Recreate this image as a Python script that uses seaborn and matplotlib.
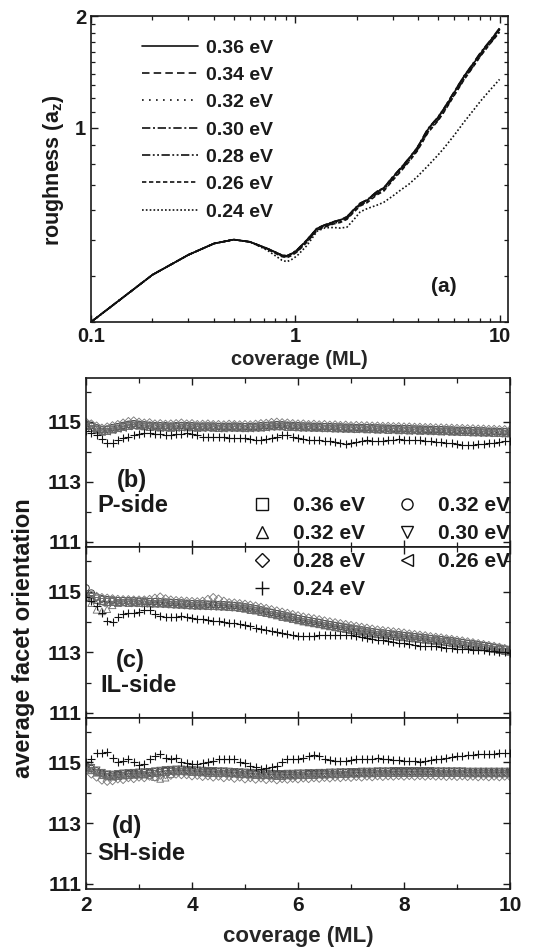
import numpy as np
import pandas as pd
import matplotlib
matplotlib.use("Agg")
import matplotlib.pyplot as plt
from matplotlib.lines import Line2D
from matplotlib.ticker import FixedLocator, NullFormatter, FixedFormatter
import seaborn as sns

# ---------------- panel (a): roughness vs coverage ----------------
energies_a = ["0.36 eV", "0.34 eV", "0.32 eV", "0.30 eV", "0.28 eV", "0.26 eV", "0.24 eV"]
coverage_a = [0.10, 0.20, 0.30, 0.40, 0.50, 0.60, 0.73, 0.86, 0.91, 0.96, 1.02, 1.14, 1.28,
              1.40, 1.54, 1.66, 1.79, 1.93, 2.08, 2.25, 2.51, 2.71, 3.00, 3.27, 3.60, 3.95,
              4.46, 5.00, 5.33, 6.00, 6.69, 7.40, 8.07, 9.00, 10.0]
rough_036 = [0.300, 0.402, 0.455, 0.488, 0.500, 0.493, 0.473, 0.454, 0.452, 0.458, 0.468, 0.498, 0.536,
             0.547, 0.558, 0.564, 0.575, 0.600, 0.625, 0.638, 0.672, 0.687, 0.735, 0.775, 0.825, 0.880,
             0.990, 1.065, 1.120, 1.245, 1.370, 1.480, 1.585, 1.710, 1.840]
rough_034 = [0.300, 0.402, 0.455, 0.488, 0.500, 0.493, 0.473, 0.454, 0.452, 0.458, 0.469, 0.499, 0.537,
             0.548, 0.558, 0.565, 0.576, 0.601, 0.626, 0.640, 0.673, 0.689, 0.737, 0.777, 0.827, 0.883,
             0.993, 1.068, 1.125, 1.250, 1.375, 1.485, 1.590, 1.715, 1.850]
rough_032 = [0.300, 0.402, 0.455, 0.488, 0.500, 0.493, 0.473, 0.453, 0.451, 0.457, 0.467, 0.497, 0.535,
             0.546, 0.557, 0.563, 0.574, 0.599, 0.624, 0.637, 0.670, 0.686, 0.733, 0.773, 0.822, 0.877,
             0.985, 1.060, 1.115, 1.240, 1.365, 1.475, 1.580, 1.705, 1.835]
rough_030 = [0.300, 0.402, 0.455, 0.488, 0.500, 0.493, 0.473, 0.454, 0.452, 0.459, 0.469, 0.499, 0.537,
             0.548, 0.559, 0.565, 0.576, 0.602, 0.627, 0.640, 0.674, 0.689, 0.738, 0.778, 0.828, 0.884,
             0.995, 1.070, 1.125, 1.250, 1.378, 1.488, 1.595, 1.720, 1.855]
rough_028 = [0.300, 0.402, 0.455, 0.488, 0.500, 0.493, 0.472, 0.452, 0.449, 0.455, 0.465, 0.494, 0.532,
             0.543, 0.553, 0.559, 0.570, 0.595, 0.620, 0.633, 0.665, 0.680, 0.727, 0.766, 0.815, 0.870,
             0.975, 1.050, 1.105, 1.228, 1.350, 1.460, 1.565, 1.690, 1.815]
rough_026 = [0.300, 0.402, 0.455, 0.488, 0.500, 0.493, 0.471, 0.450, 0.447, 0.453, 0.463, 0.492, 0.530,
             0.541, 0.551, 0.556, 0.567, 0.592, 0.616, 0.629, 0.660, 0.675, 0.722, 0.761, 0.810, 0.865,
             0.970, 1.045, 1.100, 1.222, 1.345, 1.455, 1.560, 1.685, 1.810]
rough_024 = [0.300, 0.402, 0.455, 0.488, 0.500, 0.493, 0.468, 0.440, 0.436, 0.442, 0.452, 0.482, 0.527,
             0.538, 0.539, 0.537, 0.540, 0.565, 0.594, 0.606, 0.619, 0.630, 0.655, 0.679, 0.705, 0.738,
             0.790, 0.845, 0.880, 0.955, 1.035, 1.110, 1.180, 1.265, 1.350]
rough_all = [rough_036, rough_034, rough_032, rough_030, rough_028, rough_026, rough_024]

# ---------------- panels (b)-(d): facet orientation vs coverage ----------------
coverage_bd = np.round(np.linspace(2.0, 10.0, 81), 1)
legend_labels_bd = ["0.36 eV", "0.32 eV", "0.32 eV", "0.30 eV", "0.28 eV", "0.26 eV", "0.24 eV"]

# (b) P-side
b_036 = [114.88, 114.80, 114.75, 114.70, 114.70, 114.76, 114.80, 114.85, 114.87, 114.90, 114.88,
         114.86, 114.84, 114.85, 114.82, 114.83, 114.81, 114.84, 114.83, 114.85, 114.82,
         114.82, 114.81, 114.83, 114.82, 114.80, 114.81, 114.82, 114.81, 114.81, 114.80,
         114.81, 114.82, 114.83, 114.83, 114.86, 114.86, 114.86, 114.84, 114.84, 114.83,
         114.82, 114.82, 114.81, 114.81, 114.80, 114.80, 114.79, 114.79, 114.78, 114.78,
         114.77, 114.78, 114.76, 114.77, 114.75, 114.76, 114.74, 114.75, 114.74, 114.73,
         114.73, 114.72, 114.72, 114.71, 114.71, 114.70, 114.70, 114.69, 114.69, 114.68,
         114.67, 114.67, 114.66, 114.66, 114.65, 114.65, 114.64, 114.64, 114.63, 114.63]
b_034 = [114.92, 114.87, 114.79, 114.74, 114.75, 114.80, 114.83, 114.87, 114.91, 114.93, 114.91,
         114.89, 114.88, 114.86, 114.86, 114.86, 114.85, 114.86, 114.87, 114.86, 114.86,
         114.85, 114.85, 114.85, 114.85, 114.84, 114.84, 114.84, 114.85, 114.84, 114.83,
         114.84, 114.84, 114.86, 114.87, 114.88, 114.90, 114.89, 114.88, 114.87, 114.86,
         114.85, 114.85, 114.84, 114.84, 114.83, 114.83, 114.82, 114.82, 114.81, 114.81,
         114.80, 114.80, 114.80, 114.79, 114.79, 114.78, 114.78, 114.77, 114.77, 114.76,
         114.76, 114.75, 114.75, 114.74, 114.74, 114.73, 114.73, 114.72, 114.72, 114.71,
         114.71, 114.70, 114.70, 114.69, 114.69, 114.68, 114.68, 114.67, 114.67, 114.66]
b_032 = [114.85, 114.78, 114.72, 114.66, 114.69, 114.73, 114.78, 114.82, 114.86, 114.88, 114.86,
         114.84, 114.82, 114.83, 114.80, 114.81, 114.79, 114.81, 114.82, 114.81, 114.81,
         114.79, 114.80, 114.81, 114.79, 114.79, 114.78, 114.80, 114.79, 114.79, 114.78,
         114.79, 114.80, 114.80, 114.82, 114.84, 114.84, 114.84, 114.82, 114.82, 114.81,
         114.80, 114.80, 114.79, 114.79, 114.78, 114.78, 114.77, 114.77, 114.76, 114.76,
         114.75, 114.76, 114.74, 114.75, 114.73, 114.74, 114.72, 114.73, 114.71, 114.72,
         114.70, 114.71, 114.69, 114.70, 114.68, 114.69, 114.67, 114.68, 114.66, 114.66,
         114.65, 114.65, 114.64, 114.64, 114.63, 114.63, 114.62, 114.62, 114.61, 114.61]
b_030 = [114.90, 114.83, 114.77, 114.71, 114.73, 114.77, 114.81, 114.85, 114.89, 114.91, 114.89,
         114.87, 114.86, 114.85, 114.84, 114.83, 114.83, 114.84, 114.85, 114.85, 114.84,
         114.83, 114.83, 114.84, 114.83, 114.82, 114.82, 114.83, 114.83, 114.82, 114.82,
         114.82, 114.83, 114.84, 114.85, 114.87, 114.88, 114.87, 114.86, 114.85, 114.84,
         114.84, 114.83, 114.83, 114.82, 114.82, 114.81, 114.81, 114.80, 114.80, 114.79,
         114.79, 114.79, 114.78, 114.78, 114.77, 114.77, 114.76, 114.76, 114.75, 114.75,
         114.74, 114.74, 114.73, 114.73, 114.72, 114.72, 114.71, 114.71, 114.70, 114.69,
         114.69, 114.68, 114.68, 114.67, 114.67, 114.66, 114.66, 114.65, 114.65, 114.64]
b_028 = [114.98, 114.92, 114.85, 114.78, 114.82, 114.86, 114.90, 114.95, 115.00, 115.02, 114.98,
         114.95, 114.96, 114.92, 114.93, 114.91, 114.92, 114.93, 114.95, 114.92, 114.93,
         114.90, 114.91, 114.92, 114.90, 114.90, 114.89, 114.91, 114.90, 114.89, 114.90,
         114.89, 114.91, 114.93, 114.94, 114.97, 114.98, 114.96, 114.95, 114.93, 114.92,
         114.92, 114.90, 114.91, 114.89, 114.90, 114.88, 114.89, 114.87, 114.88, 114.86,
         114.87, 114.86, 114.86, 114.85, 114.85, 114.84, 114.84, 114.83, 114.83, 114.82,
         114.82, 114.81, 114.81, 114.80, 114.80, 114.79, 114.79, 114.78, 114.78, 114.77,
         114.77, 114.76, 114.76, 114.75, 114.75, 114.74, 114.74, 114.73, 114.73, 114.72]
b_026 = [114.83, 114.78, 114.70, 114.66, 114.67, 114.72, 114.76, 114.79, 114.84, 114.86, 114.84,
         114.82, 114.81, 114.80, 114.79, 114.79, 114.78, 114.79, 114.80, 114.80, 114.79,
         114.78, 114.78, 114.79, 114.78, 114.77, 114.77, 114.78, 114.78, 114.77, 114.77,
         114.77, 114.78, 114.79, 114.80, 114.82, 114.83, 114.82, 114.81, 114.80, 114.79,
         114.79, 114.78, 114.78, 114.77, 114.77, 114.76, 114.76, 114.75, 114.75, 114.74,
         114.74, 114.74, 114.73, 114.73, 114.72, 114.72, 114.71, 114.71, 114.70, 114.70,
         114.69, 114.69, 114.68, 114.68, 114.67, 114.67, 114.66, 114.66, 114.65, 114.64,
         114.64, 114.63, 114.63, 114.62, 114.62, 114.61, 114.61, 114.60, 114.60, 114.59]
b_024 = [114.68, 114.62, 114.55, 114.42, 114.30, 114.30, 114.38, 114.45, 114.50, 114.55, 114.58,
         114.62, 114.62, 114.60, 114.58, 114.56, 114.57, 114.59, 114.60, 114.61, 114.58,
         114.54, 114.50, 114.50, 114.49, 114.48, 114.48, 114.46, 114.45, 114.45, 114.44,
         114.42, 114.40, 114.39, 114.41, 114.45, 114.48, 114.54, 114.56, 114.50, 114.45,
         114.42, 114.40, 114.39, 114.38, 114.36, 114.34, 114.32, 114.28, 114.27, 114.30,
         114.33, 114.36, 114.38, 114.37, 114.36, 114.36, 114.38, 114.40, 114.41, 114.40,
         114.39, 114.39, 114.38, 114.37, 114.35, 114.33, 114.31, 114.29, 114.28, 114.26,
         114.23, 114.22, 114.22, 114.24, 114.26, 114.28, 114.30, 114.32, 114.34, 114.36]

# (c) IL-side
c_036 = [114.84, 114.80, 114.73, 114.70, 114.67, 114.67, 114.65, 114.66, 114.64, 114.65, 114.63,
         114.64, 114.62, 114.63, 114.61, 114.61, 114.59, 114.60, 114.58, 114.57, 114.56,
         114.55, 114.55, 114.53, 114.54, 114.52, 114.52, 114.50, 114.50, 114.47, 114.45,
         114.41, 114.39, 114.34, 114.31, 114.26, 114.23, 114.18, 114.15, 114.10, 114.07,
         114.02, 114.00, 113.96, 113.94, 113.89, 113.87, 113.83, 113.81, 113.77, 113.75,
         113.71, 113.69, 113.65, 113.63, 113.60, 113.59, 113.56, 113.55, 113.52, 113.51,
         113.48, 113.47, 113.44, 113.43, 113.40, 113.39, 113.36, 113.35, 113.32, 113.30,
         113.27, 113.25, 113.22, 113.20, 113.17, 113.15, 113.11, 113.09, 113.05, 113.03]
c_034 = [115.12, 114.95, 114.82, 114.76, 114.73, 114.72, 114.70, 114.70, 114.69, 114.69, 114.68,
         114.68, 114.67, 114.67, 114.66, 114.65, 114.64, 114.63, 114.62, 114.61, 114.60,
         114.59, 114.59, 114.58, 114.58, 114.57, 114.56, 114.55, 114.54, 114.52, 114.49,
         114.46, 114.43, 114.39, 114.35, 114.31, 114.27, 114.23, 114.19, 114.15, 114.11,
         114.07, 114.04, 114.01, 113.98, 113.94, 113.91, 113.88, 113.85, 113.82, 113.79,
         113.76, 113.73, 113.70, 113.67, 113.65, 113.63, 113.61, 113.59, 113.57, 113.55,
         113.53, 113.51, 113.49, 113.47, 113.45, 113.43, 113.41, 113.39, 113.37, 113.34,
         113.32, 113.29, 113.27, 113.24, 113.22, 113.19, 113.16, 113.13, 113.10, 113.07]
c_032 = [114.80, 114.62, 114.40, 114.35, 114.42, 114.55, 114.62, 114.64, 114.63, 114.63, 114.62,
         114.62, 114.61, 114.60, 114.60, 114.59, 114.58, 114.57, 114.56, 114.55, 114.54,
         114.53, 114.53, 114.52, 114.52, 114.51, 114.50, 114.49, 114.48, 114.46, 114.43,
         114.40, 114.37, 114.33, 114.29, 114.25, 114.21, 114.17, 114.13, 114.09, 114.05,
         114.01, 113.98, 113.95, 113.92, 113.88, 113.85, 113.82, 113.79, 113.76, 113.73,
         113.70, 113.67, 113.64, 113.61, 113.59, 113.57, 113.55, 113.53, 113.51, 113.49,
         113.47, 113.45, 113.43, 113.41, 113.39, 113.37, 113.35, 113.33, 113.31, 113.28,
         113.26, 113.23, 113.21, 113.18, 113.16, 113.13, 113.10, 113.07, 113.04, 113.01]
c_030 = [114.86, 114.83, 114.77, 114.73, 114.71, 114.70, 114.69, 114.69, 114.68, 114.68, 114.67,
         114.67, 114.66, 114.66, 114.65, 114.64, 114.63, 114.62, 114.61, 114.60, 114.59,
         114.58, 114.58, 114.57, 114.57, 114.56, 114.55, 114.54, 114.53, 114.51, 114.48,
         114.45, 114.42, 114.38, 114.34, 114.30, 114.26, 114.22, 114.18, 114.14, 114.10,
         114.06, 114.03, 114.00, 113.97, 113.93, 113.90, 113.87, 113.84, 113.81, 113.78,
         113.75, 113.72, 113.69, 113.66, 113.64, 113.62, 113.60, 113.58, 113.56, 113.54,
         113.52, 113.50, 113.48, 113.46, 113.44, 113.42, 113.40, 113.38, 113.36, 113.33,
         113.31, 113.28, 113.26, 113.23, 113.21, 113.18, 113.15, 113.12, 113.09, 113.06]
c_028 = [114.80, 114.88, 114.84, 114.80, 114.78, 114.76, 114.74, 114.73, 114.73, 114.72, 114.72,
         114.72, 114.74, 114.78, 114.82, 114.76, 114.72, 114.70, 114.69, 114.68, 114.67,
         114.66, 114.68, 114.74, 114.80, 114.75, 114.68, 114.63, 114.62, 114.60, 114.58,
         114.55, 114.52, 114.48, 114.44, 114.40, 114.36, 114.32, 114.28, 114.24, 114.20,
         114.16, 114.13, 114.10, 114.07, 114.03, 114.00, 113.97, 113.94, 113.91, 113.88,
         113.85, 113.82, 113.79, 113.76, 113.73, 113.71, 113.69, 113.67, 113.65, 113.63,
         113.60, 113.58, 113.56, 113.54, 113.51, 113.49, 113.47, 113.44, 113.42, 113.39,
         113.37, 113.34, 113.31, 113.28, 113.25, 113.22, 113.19, 113.16, 113.12, 113.09]
c_026 = [114.78, 114.72, 114.66, 114.62, 114.62, 114.62, 114.62, 114.62, 114.61, 114.61, 114.60,
         114.60, 114.59, 114.59, 114.58, 114.57, 114.56, 114.55, 114.54, 114.53, 114.52,
         114.51, 114.51, 114.50, 114.50, 114.49, 114.48, 114.47, 114.46, 114.44, 114.41,
         114.38, 114.35, 114.31, 114.27, 114.23, 114.19, 114.15, 114.11, 114.07, 114.03,
         113.99, 113.96, 113.93, 113.90, 113.86, 113.83, 113.80, 113.77, 113.74, 113.71,
         113.68, 113.65, 113.62, 113.59, 113.57, 113.55, 113.53, 113.51, 113.49, 113.47,
         113.45, 113.43, 113.41, 113.39, 113.37, 113.35, 113.33, 113.31, 113.29, 113.26,
         113.24, 113.21, 113.19, 113.16, 113.14, 113.11, 113.08, 113.05, 113.02, 112.99]
c_024 = [114.82, 114.70, 114.52, 114.30, 114.02, 113.98, 114.15, 114.27, 114.28, 114.28, 114.32,
         114.38, 114.40, 114.25, 114.18, 114.16, 114.17, 114.16, 114.18, 114.17, 114.12,
         114.10, 114.08, 114.06, 114.04, 114.02, 114.00, 113.97, 113.95, 113.92, 113.89,
         113.85, 113.81, 113.77, 113.73, 113.70, 113.67, 113.64, 113.61, 113.57, 113.53,
         113.52, 113.53, 113.55, 113.56, 113.57, 113.58, 113.58, 113.57, 113.57, 113.56,
         113.53, 113.50, 113.47, 113.43, 113.41, 113.39, 113.36, 113.34, 113.31, 113.29,
         113.26, 113.24, 113.22, 113.21, 113.20, 113.19, 113.17, 113.15, 113.13, 113.11,
         113.10, 113.09, 113.08, 113.07, 113.06, 113.05, 113.03, 113.01, 113.00, 112.98]

# (d) SH-side
d_036 = [114.84, 114.76, 114.69, 114.60, 114.56, 114.55, 114.57, 114.58, 114.60, 114.61, 114.62,
         114.63, 114.64, 114.66, 114.68, 114.70, 114.71, 114.72, 114.72, 114.71, 114.70,
         114.69, 114.68, 114.67, 114.67, 114.66, 114.66, 114.65, 114.64, 114.63, 114.62,
         114.61, 114.60, 114.59, 114.59, 114.58, 114.57, 114.57, 114.58, 114.58, 114.59,
         114.59, 114.60, 114.60, 114.61, 114.61, 114.62, 114.62, 114.63, 114.63, 114.64,
         114.64, 114.65, 114.65, 114.65, 114.66, 114.66, 114.66, 114.67, 114.67, 114.67,
         114.67, 114.67, 114.67, 114.67, 114.67, 114.66, 114.66, 114.66, 114.66, 114.66,
         114.66, 114.65, 114.65, 114.65, 114.65, 114.65, 114.65, 114.65, 114.65, 114.65]
d_034 = [114.88, 114.80, 114.72, 114.64, 114.59, 114.58, 114.60, 114.62, 114.63, 114.64, 114.65,
         114.66, 114.67, 114.69, 114.71, 114.73, 114.74, 114.75, 114.75, 114.74, 114.73,
         114.72, 114.71, 114.70, 114.70, 114.69, 114.69, 114.68, 114.67, 114.66, 114.65,
         114.64, 114.63, 114.62, 114.62, 114.61, 114.60, 114.60, 114.61, 114.61, 114.62,
         114.62, 114.63, 114.63, 114.64, 114.64, 114.65, 114.65, 114.66, 114.66, 114.67,
         114.67, 114.68, 114.68, 114.68, 114.69, 114.69, 114.69, 114.70, 114.70, 114.70,
         114.70, 114.70, 114.70, 114.70, 114.70, 114.69, 114.69, 114.69, 114.69, 114.69,
         114.69, 114.68, 114.68, 114.68, 114.68, 114.68, 114.68, 114.68, 114.68, 114.68]
d_032 = [114.82, 114.74, 114.66, 114.58, 114.54, 114.53, 114.55, 114.57, 114.58, 114.59, 114.60,
         114.60, 114.58, 114.52, 114.46, 114.50, 114.62, 114.70, 114.71, 114.70, 114.69,
         114.68, 114.67, 114.66, 114.66, 114.65, 114.65, 114.64, 114.63, 114.62, 114.61,
         114.60, 114.59, 114.58, 114.58, 114.57, 114.56, 114.56, 114.57, 114.57, 114.58,
         114.58, 114.59, 114.59, 114.60, 114.60, 114.61, 114.61, 114.62, 114.62, 114.63,
         114.63, 114.64, 114.64, 114.64, 114.65, 114.65, 114.65, 114.66, 114.66, 114.66,
         114.66, 114.66, 114.66, 114.66, 114.66, 114.65, 114.65, 114.65, 114.65, 114.65,
         114.65, 114.64, 114.64, 114.64, 114.64, 114.64, 114.64, 114.64, 114.64, 114.64]
d_030 = [114.90, 114.82, 114.74, 114.66, 114.61, 114.60, 114.62, 114.64, 114.65, 114.66, 114.67,
         114.68, 114.69, 114.71, 114.73, 114.75, 114.76, 114.77, 114.77, 114.76, 114.75,
         114.74, 114.73, 114.72, 114.72, 114.71, 114.71, 114.70, 114.69, 114.68, 114.67,
         114.66, 114.65, 114.64, 114.64, 114.63, 114.62, 114.62, 114.63, 114.63, 114.64,
         114.64, 114.65, 114.65, 114.66, 114.66, 114.67, 114.67, 114.68, 114.68, 114.69,
         114.69, 114.70, 114.70, 114.70, 114.71, 114.71, 114.71, 114.72, 114.72, 114.72,
         114.72, 114.72, 114.72, 114.72, 114.72, 114.71, 114.71, 114.71, 114.71, 114.71,
         114.71, 114.70, 114.70, 114.70, 114.70, 114.70, 114.70, 114.70, 114.70, 114.70]
d_028 = [114.75, 114.62, 114.52, 114.42, 114.38, 114.40, 114.46, 114.44, 114.50, 114.47, 114.52,
         114.50, 114.55, 114.52, 114.58, 114.60, 114.58, 114.62, 114.60, 114.60, 114.56,
         114.58, 114.54, 114.56, 114.52, 114.55, 114.50, 114.54, 114.48, 114.52, 114.46,
         114.50, 114.45, 114.49, 114.44, 114.48, 114.43, 114.47, 114.45, 114.48, 114.46,
         114.49, 114.47, 114.50, 114.48, 114.51, 114.49, 114.52, 114.50, 114.53, 114.51,
         114.54, 114.52, 114.55, 114.53, 114.56, 114.54, 114.56, 114.55, 114.57, 114.55,
         114.57, 114.55, 114.57, 114.55, 114.57, 114.55, 114.56, 114.54, 114.56, 114.54,
         114.56, 114.54, 114.55, 114.53, 114.55, 114.53, 114.55, 114.53, 114.55, 114.54]
d_026 = [114.80, 114.73, 114.66, 114.58, 114.53, 114.52, 114.54, 114.56, 114.57, 114.58, 114.59,
         114.60, 114.61, 114.63, 114.65, 114.67, 114.68, 114.69, 114.69, 114.68, 114.67,
         114.66, 114.65, 114.64, 114.64, 114.63, 114.63, 114.62, 114.61, 114.60, 114.59,
         114.58, 114.57, 114.56, 114.56, 114.55, 114.54, 114.54, 114.55, 114.55, 114.56,
         114.56, 114.57, 114.57, 114.58, 114.58, 114.59, 114.59, 114.60, 114.60, 114.61,
         114.61, 114.62, 114.62, 114.62, 114.63, 114.63, 114.63, 114.64, 114.64, 114.64,
         114.64, 114.64, 114.64, 114.64, 114.64, 114.63, 114.63, 114.63, 114.63, 114.63,
         114.63, 114.62, 114.62, 114.62, 114.62, 114.62, 114.62, 114.62, 114.62, 114.62]
d_024 = [115.00, 115.10, 115.30, 115.32, 115.35, 115.15, 115.00, 115.05, 115.12, 115.00, 114.92,
         114.95, 115.10, 115.20, 115.28, 115.15, 115.12, 115.15, 115.02, 114.98, 114.95,
         114.95, 114.98, 115.00, 115.05, 115.10, 115.12, 115.12, 115.10, 115.02, 114.98,
         114.90, 114.85, 114.80, 114.82, 114.85, 114.90, 115.00, 115.10, 115.12, 115.12,
         115.15, 115.20, 115.25, 115.20, 115.10, 115.08, 115.05, 115.04, 115.06, 115.08,
         115.10, 115.12, 115.10, 115.12, 115.15, 115.12, 115.10, 115.08, 115.08, 115.06,
         115.05, 115.04, 115.03, 115.05, 115.08, 115.10, 115.12, 115.15, 115.18, 115.20,
         115.22, 115.24, 115.25, 115.27, 115.28, 115.28, 115.29, 115.30, 115.31, 115.32]

panel_series = {
    "b": [b_036, b_034, b_032, b_030, b_028, b_026, b_024],
    "c": [c_036, c_034, c_032, c_030, c_028, c_026, c_024],
    "d": [d_036, d_034, d_032, d_030, d_028, d_026, d_024],
}
panel_tags = {"b": ("(b)", "P-side"), "c": ("(c)", "IL-side"), "d": ("(d)", "SH-side")}

# ---------------- style ----------------
sns.set_style("ticks")
plt.rcParams.update({
    "font.family": ["Liberation Sans", "DejaVu Sans"],
    "font.weight": "bold",
    "axes.labelweight": "bold",
    "mathtext.fontset": "custom",
    "mathtext.rm": "Liberation Sans:bold",
    "mathtext.it": "Liberation Sans:bold",
    "mathtext.bf": "Liberation Sans:bold",
    "axes.linewidth": 1.2,
    "axes.edgecolor": "#1a1a1a",
    "xtick.direction": "in", "ytick.direction": "in",
    "xtick.top": True, "ytick.right": True,
    "xtick.color": "#1a1a1a", "ytick.color": "#1a1a1a",
    "text.color": "#1a1a1a",
})

W, H = 543, 950
fig = plt.figure(figsize=(W / 100, H / 100), dpi=100)


def px_axes(l, t, r, b):
    return fig.add_axes([l / W, 1 - b / H, (r - l) / W, (b - t) / H])


# ---------------- panel (a) ----------------
ax_a = px_axes(91, 16, 508, 322)
rows = []
for lab, vals in zip(energies_a, rough_all):
    for cv, rv in zip(coverage_a, vals):
        rows.append({"coverage": cv, "roughness": rv, "energy": lab})
df_a = pd.DataFrame(rows)
dash_map = {"0.36 eV": "", "0.34 eV": (4.5, 2.5), "0.32 eV": (1, 3.2),
            "0.30 eV": (5, 1.6, 1.2, 1.6), "0.28 eV": (5, 1.5, 1.1, 1.5, 1.1, 1.5),
            "0.26 eV": (2.6, 1.6), "0.24 eV": (1, 1.3)}
ax_a.set_xscale("log")
ax_a.set_yscale("log")
sns.lineplot(data=df_a, x="coverage", y="roughness", style="energy", style_order=energies_a,
             dashes=dash_map, color="#111111", linewidth=1.2, estimator=None, sort=False,
             legend=False, ax=ax_a)
ax_a.set_xlim(0.1, 11.0)
ax_a.set_ylim(0.30, 2.0)
ax_a.xaxis.set_major_locator(FixedLocator([0.1, 1, 10]))
ax_a.xaxis.set_major_formatter(FixedFormatter(["0.1", "1", "10"]))
ax_a.xaxis.set_minor_locator(FixedLocator([0.2, 0.3, 0.4, 0.5, 0.6, 0.7, 0.8, 0.9,
                                           2, 3, 4, 5, 6, 7, 8, 9]))
ax_a.xaxis.set_minor_formatter(NullFormatter())
ax_a.yaxis.set_major_locator(FixedLocator([1, 2]))
ax_a.yaxis.set_major_formatter(FixedFormatter(["1", "2"]))
ax_a.yaxis.set_minor_locator(FixedLocator([0.3, 0.4, 0.5, 0.6, 0.7, 0.8, 0.9,
                                           1.1, 1.2, 1.3, 1.4, 1.5, 1.6, 1.7, 1.8, 1.9]))
ax_a.yaxis.set_minor_formatter(NullFormatter())
ax_a.tick_params(which="major", length=5, width=1.0, labelsize=14.5, pad=3.5)
ax_a.tick_params(which="minor", length=3, width=0.9)
ax_a.set_xlabel("coverage (ML)", fontsize=14.5, labelpad=3)
ax_a.set_ylabel("")
fig.text(53 / W, 1 - 170 / H, "roughness (a$_z$)", rotation=90, ha="center", va="center",
         fontsize=15.5, fontweight="bold")
ax_a.text(0.845, 0.115, "(a)", transform=ax_a.transAxes, ha="center", va="center",
          fontsize=15, fontweight="bold")
fig.legend(handles=ax_a.get_lines()[:7], labels=energies_a, loc="upper left",
           bbox_to_anchor=(142 / W, 1 - 39 / H), frameon=False, fontsize=14,
           handlelength=2.9, handletextpad=0.4, labelspacing=0.50, borderpad=0,
           borderaxespad=0)

# ---------------- panels (b)-(d) ----------------
markers = ["s", "o", "^", "v", "D", "<", "+"]
colors = ["#626262", "#2e2e2e", "#767676", "#585858", "#7c7c7c", "#666666", "#111111"]
sizes = [20, 22, 24, 24, 18, 24, 36]

bounds = {"b": (377.7, 547.3), "c": (547.3, 718.3), "d": (718.3, 889.0)}
tag_pos = {"b": ((132, 481), (97, 506)), "c": ((130, 661), (100, 686)),
           "d": ((127, 826), (97, 853))}
axes_bd = {}
for key in ["b", "c", "d"]:
    top, bot = bounds[key]
    ax = px_axes(86, top, 510, bot)
    axes_bd[key] = ax
    for vals, mk, col, sz in zip(panel_series[key], markers, colors, sizes):
        if mk == "+":
            sns.scatterplot(x=coverage_bd, y=vals, marker=mk, s=sz, color=col,
                            linewidth=0.8, legend=False, ax=ax, zorder=3)
        else:
            sns.scatterplot(x=coverage_bd, y=vals, marker=mk, s=sz, color=col,
                            facecolor="none", edgecolor=col, linewidth=0.65,
                            legend=False, ax=ax, zorder=2)
    ax.set_xlim(2, 10)
    ax.set_ylim(110.82, 116.46)
    ax.xaxis.set_major_locator(FixedLocator([2, 4, 6, 8, 10]))
    ax.xaxis.set_minor_locator(FixedLocator([3, 5, 7, 9]))
    ax.yaxis.set_major_locator(FixedLocator([111, 113, 115]))
    ax.yaxis.set_minor_locator(FixedLocator([112, 114, 116]))
    ax.tick_params(which="major", length=5, width=1.0, labelsize=15, pad=3)
    ax.tick_params(axis="x", which="major", pad=5)
    ax.tick_params(which="minor", length=3.5, width=0.9)
    ax.set_xlabel("")
    ax.set_ylabel("")
    if key != "d":
        ax.tick_params(labelbottom=False)
    (tx, ty), (sx, sy) = tag_pos[key]
    fig.text(tx / W, 1 - ty / H, panel_tags[key][0], ha="center", va="center",
             fontsize=17, fontweight="bold")
    fig.text(sx / W, 1 - sy / H, panel_tags[key][1], ha="left", va="center",
             fontsize=17, fontweight="bold")

axes_bd["d"].set_xlabel("coverage (ML)", fontsize=16, labelpad=8)
fig.text(24 / W, 1 - 638 / H, "average facet orientation", rotation=90, ha="center",
         va="center", fontsize=17, fontweight="bold")

# legend for (b)-(d): square, triangle, diamond, plus | circle, down-tri, left-tri
order = [0, 2, 4, 6, 1, 3, 5]
handles = []
for i in order:
    if markers[i] == "+":
        h = Line2D([], [], linestyle="none", marker="+", markersize=10, color="#111111",
                   markeredgewidth=1.0)
    else:
        h = Line2D([], [], linestyle="none", marker=markers[i],
                   markersize=8 if markers[i] != "D" else 7,
                   markerfacecolor="none", markeredgecolor="#111111", markeredgewidth=1.0)
    handles.append(h)
fig.legend(handles=handles, labels=[legend_labels_bd[i] for i in order], ncol=2,
           loc="upper left", bbox_to_anchor=(252 / W, 1 - 496 / H), frameon=False,
           fontsize=15, handlelength=1.0, handletextpad=0.95, columnspacing=1.55,
           labelspacing=0.43, borderpad=0, borderaxespad=0)

fig.savefig("out.png", dpi=100)
